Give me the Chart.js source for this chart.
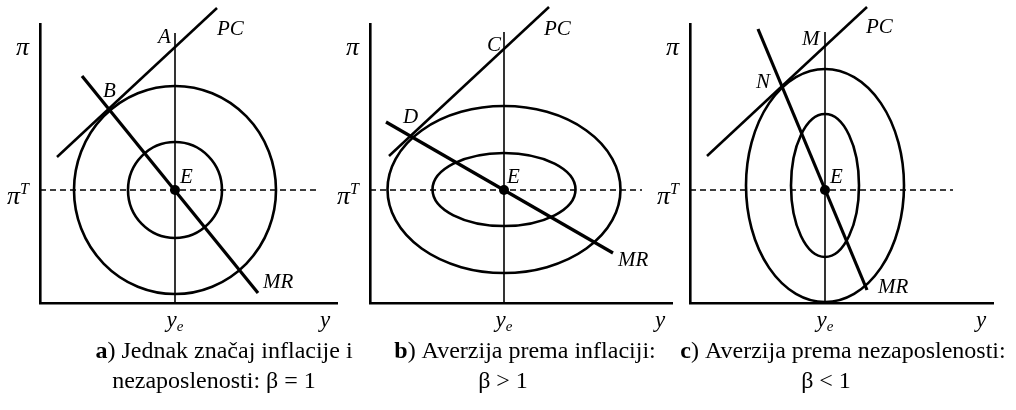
<!DOCTYPE html>
<html>
<head>
<meta charset="utf-8">
<script src="https://cdn.jsdelivr.net/npm/chart.js@4.4.1/dist/chart.umd.min.js"></script>
<style>
  html, body { margin: 0; padding: 0; background: #fff; }
  #wrap { position: relative; width: 1016px; height: 410px; }
  #wrap canvas { position: absolute; left: 0; top: 0; }
</style>
</head>
<body>
<div id="wrap">
  <canvas id="panelA" width="1016" height="410"></canvas>
  <canvas id="panelB" width="1016" height="410"></canvas>
  <canvas id="panelC" width="1016" height="410"></canvas>
</div>
<script>
// Units: horizontal = output gap (y - y_e), vertical = inflation gap (π - π^T).

// Axis extents of each panel
const outputAxisA = [-13.5, 16.2];
const outputAxisB = [-13.4, 16.8];
const outputAxisC = [-13.5, 16.8];
const inflationAxis = [-11.3, 16.6];

// Phillips curve (PC) end points
const pcA = [[-11.8, 3.3], [4.2, 18.2]];
const pcB = [[-11.5, 3.4], [4.5, 18.3]];
const pcC = [[-11.8, 3.4], [4.2, 18.3]];

// Monetary rule (MR) end points
const mrA = [[-9.3, 11.4], [8.3, -10.3]];
const mrB = [[-11.8, 6.8], [10.9, -6.3]];
const mrC = [[-6.7, 16.1], [4.2, -10.0]];

// Loss ellipses: centre and semi-axes (outer, inner)
const lossCentreA = [0, 0];
const lossCentreB = [0, 0.05];
const lossCentreC = [0, 0.45];
const lossAxesA = [[10.1, 10.4], [4.7, 4.8]];
const lossAxesB = [[11.65, 8.35], [7.15, 3.65]];
const lossAxesC = [[7.9, 11.65], [3.4, 7.15]];

// Upper end of the y_e line and right end of the π^T line
const naturalOutputTop = [15.7, 15.8, 15.8];
const targetLineEnd = [14.5, 13.8, 12.8];

// Equilibrium point E
const equilibrium = [0, 0];

// Point names
const pointLabelsA = [['A', -1.7, 14.7], ['PC', 4.2, 15.5], ['B', -7.2, 9.3], ['E', 0.5, 0.7], ['MR', 8.8, -9.8]];
const pointLabelsB = [['C', -1.7, 13.9], ['PC', 4.0, 15.5], ['D', -10.1, 6.7], ['E', 0.3, 0.7], ['MR', 11.4, -7.6]];
const pointLabelsC = [['M', -2.3, 14.5], ['PC', 4.1, 15.7], ['N', -6.9, 10.2], ['E', 0.5, 0.7], ['MR', 5.3, -10.3]];

// Captions: [bold letter, rest of first line, second line]
const captionA = ['a', ') Jednak značaj inflacije i', 'nezaposlenosti: β = 1'];
const captionB = ['b', ') Averzija prema inflaciji:', 'β > 1'];
const captionC = ['c', ') Averzija prema nezaposlenosti:', 'β < 1'];

const SERIF = '"Liberation Serif", "Times New Roman", serif';
const LABEL_FONT = 'italic 21px ' + SERIF;
const CAPTION_SIZE = 24;

function pts(pairs) { return pairs.map(p => ({ x: p[0], y: p[1] })); }

// Draw a sequence of text runs on baseline y, anchored left or centred on x
function drawRuns(ctx, runs, x, y, align) {
  let total = 0;
  runs.forEach(r => { ctx.font = r.font; total += ctx.measureText(r.text).width; });
  let cx = align === 'center' ? x - total / 2 : x;
  runs.forEach(r => {
    ctx.font = r.font;
    ctx.fillText(r.text, cx, y + (r.dy || 0));
    cx += ctx.measureText(r.text).width;
  });
}

const decorPlugin = {
  id: 'decor',
  beforeDatasetsDraw(chart) {
    const cfg = chart.options.plugins.decor;
    const xs = chart.scales.x, ys = chart.scales.y, ctx = chart.ctx;
    ctx.save();
    ctx.strokeStyle = '#000';
    ctx.lineWidth = 2.6;
    const cx = xs.getPixelForValue(cfg.centre[0]);
    const cy = ys.getPixelForValue(cfg.centre[1]);
    cfg.axes.forEach(r => {
      const rx = Math.abs(xs.getPixelForValue(cfg.centre[0] + r[0]) - cx);
      const ry = Math.abs(ys.getPixelForValue(cfg.centre[1] + r[1]) - cy);
      ctx.beginPath();
      ctx.ellipse(cx, cy, rx, ry, 0, 0, Math.PI * 2);
      ctx.stroke();
    });
    ctx.restore();
  },
  afterDraw(chart) {
    const cfg = chart.options.plugins.decor;
    const xs = chart.scales.x, ys = chart.scales.y, ctx = chart.ctx;
    const area = chart.chartArea;
    ctx.save();
    ctx.fillStyle = '#000';
    ctx.textBaseline = 'alphabetic';
    ctx.textAlign = 'left';
    // point names
    ctx.font = LABEL_FONT;
    cfg.labels.forEach(l => {
      ctx.fillText(l[0], xs.getPixelForValue(l[1]), ys.getPixelForValue(l[2]));
    });
    // vertical axis names
    const piT = ys.getPixelForValue(0);
    drawRuns(ctx, [{ text: 'π', font: 'italic 26px ' + SERIF }], area.left - 24, area.top + 31, 'left');
    drawRuns(ctx, [
      { text: 'π', font: 'italic 26px ' + SERIF },
      { text: 'T', font: 'italic 16px ' + SERIF, dy: -10 }
    ], area.left - 33, piT + 14, 'left');
    // horizontal axis names
    const ye = xs.getPixelForValue(0);
    drawRuns(ctx, [
      { text: 'y', font: 'italic 23px ' + SERIF },
      { text: 'e', font: 'italic 15px ' + SERIF, dy: 4 }
    ], ye, area.bottom + 24, 'center');
    drawRuns(ctx, [{ text: 'y', font: 'italic 23px ' + SERIF }], area.right - 12, area.bottom + 24, 'center');
    // caption
    const cap = cfg.caption;
    drawRuns(ctx, [
      { text: cap.text[0], font: 'bold ' + CAPTION_SIZE + 'px ' + SERIF },
      { text: cap.text[1], font: CAPTION_SIZE + 'px ' + SERIF }
    ], cap.x1, 358, 'center');
    drawRuns(ctx, [{ text: cap.text[2], font: CAPTION_SIZE + 'px ' + SERIF }], cap.x2, 388, 'center');
    ctx.restore();
  }
};

function makePanel(id, opts) {
  const lineDs = (data, width, extra) => Object.assign({
    type: 'line', data: pts(data), borderColor: '#000', borderWidth: width,
    pointRadius: 0, fill: false, clip: false, tension: 0
  }, extra || {});
  return new Chart(document.getElementById(id), {
    type: 'scatter',
    data: {
      datasets: [
        lineDs([[0, inflationAxis[0]], [0, opts.yeTop]], 1.6),
        lineDs([[opts.xAxis[0], 0], [opts.targetEnd, 0]], 1.4, { borderDash: [6, 4] }),
        lineDs(opts.pc, 2.5),
        lineDs(opts.mr, 3.2),
        { type: 'scatter', data: pts([equilibrium]), pointRadius: 5, pointBackgroundColor: '#000',
          pointBorderColor: '#000', pointBorderWidth: 0, clip: false }
      ]
    },
    options: {
      responsive: false,
      animation: false,
      events: [],
      layout: { padding: opts.padding },
      plugins: {
        legend: { display: false },
        tooltip: { enabled: false },
        decor: { centre: opts.centre, axes: opts.axes, labels: opts.labels, caption: opts.caption }
      },
      scales: {
        x: {
          type: 'linear', min: opts.xAxis[0], max: opts.xAxis[1],
          ticks: { display: false }, grid: { display: false, drawTicks: false, tickLength: 0 },
          border: { display: true, color: '#000', width: 2.6 }
        },
        y: {
          type: 'linear', min: inflationAxis[0], max: inflationAxis[1],
          ticks: { display: false }, grid: { display: false, drawTicks: false, tickLength: 0 },
          border: { display: true, color: '#000', width: 2.6 }
        }
      }
    },
    plugins: [decorPlugin]
  });
}

makePanel('panelA', {
  xAxis: outputAxisA, pc: pcA, mr: mrA, centre: lossCentreA, axes: lossAxesA,
  yeTop: naturalOutputTop[0], targetEnd: targetLineEnd[0], labels: pointLabelsA,
  padding: { left: 40, right: 1016 - 337, top: 24, bottom: 410 - 303 },
  caption: { text: captionA, x1: 224, x2: 214 }
});
makePanel('panelB', {
  xAxis: outputAxisB, pc: pcB, mr: mrB, centre: lossCentreB, axes: lossAxesB,
  yeTop: naturalOutputTop[1], targetEnd: targetLineEnd[1], labels: pointLabelsB,
  padding: { left: 370, right: 1016 - 672, top: 24, bottom: 410 - 303 },
  caption: { text: captionB, x1: 525, x2: 503 }
});
makePanel('panelC', {
  xAxis: outputAxisC, pc: pcC, mr: mrC, centre: lossCentreC, axes: lossAxesC,
  yeTop: naturalOutputTop[2], targetEnd: targetLineEnd[2], labels: pointLabelsC,
  padding: { left: 690, right: 1016 - 993, top: 24, bottom: 410 - 303 },
  caption: { text: captionC, x1: 843, x2: 826 }
});
</script>
</body>
</html>
